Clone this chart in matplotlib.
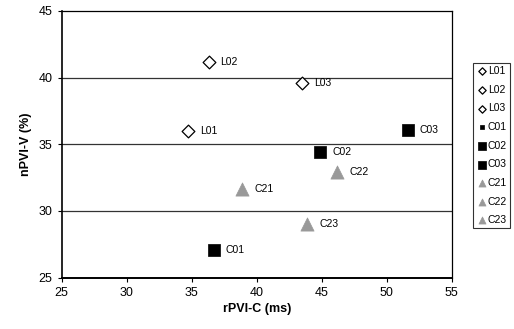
import matplotlib.pyplot as plt

plt.rcParams['font.family'] = ['Liberation Sans', 'DejaVu Sans']

# speakers
labels = ['L01', 'L02', 'L03', 'C01', 'C02', 'C03', 'C21', 'C22', 'C23']
rpvi_c = [34.7, 36.3, 43.5, 36.7, 44.9, 51.6, 38.9, 46.2, 43.9]
npvi_v = [36.0, 41.2, 39.6, 27.1, 34.4, 36.1, 31.65, 32.9, 29.0]
group = ['L', 'L', 'L', 'C0', 'C0', 'C0', 'C2', 'C2', 'C2']

styles = {
    'L': dict(marker='D', s=42, facecolors='white', edgecolors='black', linewidths=0.9),
    'C0': dict(marker='s', s=80, facecolors='black', edgecolors='black', linewidths=0.5),
    'C2': dict(marker='^', s=90, facecolors='#999999', edgecolors='#999999', linewidths=0.5),
}

fig = plt.figure(figsize=(5.14, 3.29), dpi=100)
ax = fig.add_axes([0.12, 0.156, 0.759, 0.811])

for y in [30, 35, 40]:
    ax.axhline(y, color='#333333', lw=0.9, zorder=1)

for lab, x, y, g in zip(labels, rpvi_c, npvi_v, group):
    ax.scatter([x], [y], label=lab, zorder=3, **styles[g])
    ax.annotate(lab, (x, y), xytext=(8.5, 0), textcoords='offset points',
                va='center', ha='left', fontsize=7.5)

ax.set_xlim(25, 55)
ax.set_ylim(25, 45)
ax.set_xticks([25, 30, 35, 40, 45, 50, 55])
ax.set_yticks([25, 30, 35, 40, 45])
ax.tick_params(labelsize=9, direction='out', length=3, width=0.8)
for sp in ax.spines.values():
    sp.set_linewidth(0.9)
ax.spines['bottom'].set_linewidth(1.4)
ax.spines['left'].set_linewidth(1.2)

ax.set_xlabel('rPVI-C (ms)', fontsize=9, fontweight='bold', labelpad=3)
ax.set_ylabel('nPVI-V (%)', fontsize=9, fontweight='bold', labelpad=5)

leg = ax.legend(loc='upper left', bbox_to_anchor=(1.055, 0.805), fontsize=7.5,
                frameon=True, fancybox=False, edgecolor='black',
                handletextpad=0.0, borderpad=0.3, labelspacing=0.83,
                handlelength=1.1, borderaxespad=0)
leg.get_frame().set_linewidth(0.8)
for h, lab in zip(leg.legend_handles, labels):
    if lab.startswith('L'):
        h.set_sizes([14])
    elif lab == 'C01':
        h.set_sizes([10])
    else:
        h.set_sizes([26])

fig.savefig('out.png', dpi=100)
